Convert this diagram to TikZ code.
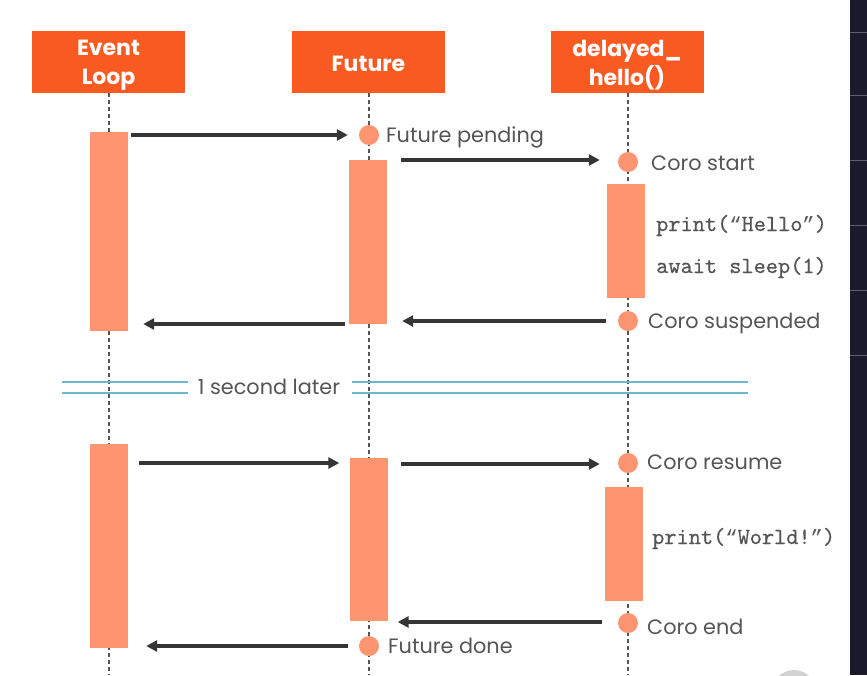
\documentclass[tikz,border=0pt]{standalone}
\usepackage{fontspec}
\setmainfont{Poppins}
\newfontfamily\codefont{lmmono10-regular.otf}[FakeBold=0.45]
\newfontfamily\quotefont{Liberation Mono}
\newcommand{\cq}[1]{{\quotefont\fontsize{20.5}{24}\selectfont #1}}
\usetikzlibrary{arrows.meta}
\definecolor{hdr}{HTML}{F95A22}
\definecolor{barc}{HTML}{FD9670}
\definecolor{txt}{HTML}{555555}
\definecolor{arr}{HTML}{353535}
\definecolor{sepc}{HTML}{6DB6CB}
\definecolor{strip}{HTML}{1B1A2C}
\tikzset{
  header/.style={fill=hdr, minimum width=153pt, minimum height=62pt, inner sep=0pt},
  hdrtext/.style={text=white, font=\fontsize{22}{29}\selectfont\bfseries, inner sep=0pt, align=center},
  life/.style={draw=txt, line width=1.1pt, dash pattern=on 4pt off 3pt},
  actbar/.style={fill=barc, minimum width=38pt, inner sep=0pt},
  dot/.style={circle, fill=barc, minimum size=20pt, inner sep=0pt},
  lbl/.style={text=txt, font=\fontsize{20.8}{24}\selectfont, anchor=base west, inner sep=0pt},
  code/.style={text=txt, font=\codefont\fontsize{23.2}{26}\selectfont, anchor=base west, inner sep=0pt},
  msg/.style={draw=arr, line width=3.4pt, -{Triangle[length=11pt,width=11pt]}},
  sepline/.style={draw=sepc, line width=2pt}
}
\begin{document}
\begin{tikzpicture}[x=1pt,y=-1pt]
\useasboundingbox (0,0) rectangle (867,675);
\fill[white] (0,0) rectangle (867,675);
% screenshot edge
\fill[strip] (850,0) rectangle (867,675);
\foreach \yy in {32,95,160,225,290,355} \draw[color=strip!70!white, line width=0.6pt] (850,\yy) -- (867,\yy);
\fill[gray!35] (794,692) circle (22);
% headers
\node[header] (hel) at (108.5,62) {};
\node[header] (hfu) at (368.5,62) {};
\node[header] (hdh) at (627,62) {};
\node[hdrtext] (tel) at ([yshift=-3pt]hel.center) {Event\\Loop};
\node[hdrtext] (tfu) at ([yshift=-2pt]hfu.center) {Future};
\node[hdrtext] (tdh) at ([yshift=-3pt]hdh.center) {delayed\_\\hello()};
% lifeline ends
\coordinate (eel) at (109,675);
\coordinate (efu) at (369,675);
\coordinate (edh) at (628,675);
\draw[life] (hel.south -| eel) -- (eel);
\draw[life] (hfu.south -| efu) -- (efu);
\draw[life] (hdh.south -| edh) -- (edh);
% activation bars
\node[actbar, minimum height=199pt] (el1) at (109,231.5) {};
\node[actbar, minimum height=204pt] (el2) at (109,546) {};
\node[actbar, minimum height=164pt] (fu1) at (368,242) {};
\node[actbar, minimum height=163pt] (fu2) at (368.5,539.5) {};
\node[actbar, minimum height=114pt] (dh1) at (626,241) {};
\node[actbar, minimum height=114pt] (dh2) at (624,544) {};
% event dots
\node[dot] (fp) at (369,135) {};
\node[dot] (cs) at (628,162) {};
\node[dot] (csu) at (628,321) {};
\node[dot] (cr) at (628,463) {};
\node[dot] (ce) at (628,623) {};
\node[dot] (fd) at (369,646) {};
% labels
\node[lbl] (lfp) at (386,142) {Future pending};
\node[lbl] (lcs) at (651,170.5) {Coro start};
\node[code] (c1) at (656,231) {print(\cq{“}Hello\cq{”})};
\node[code] (c2) at (656,273) {await sleep(1)};
\node[lbl] (lcsu) at (648,328.5) {Coro suspended};
\node[lbl] (lcr) at (647,469.5) {Coro resume};
\node[code] (c3) at (652,544) {print(\cq{“}World!\cq{”})};
\node[lbl] (lce) at (647,634.5) {Coro end};
\node[lbl] (lfd) at (388,653.5) {Future done};
% messages
\draw[msg] ([xshift=3pt]el1.east |- fp) -- ([xshift=-11pt]fp.west);
\draw[msg] ([xshift=14pt]fu1.east |- 0,160) -- ([xshift=-18pt]cs.west |- 0,160);
\draw[msg] ([xshift=-12pt]csu.west) -- ([xshift=15pt]fu1.east |- csu);
\draw[msg] ([xshift=-4pt]fu1.west |- 0,324) -- ([xshift=15pt]el1.east |- 0,324);
\draw[msg] ([xshift=11pt]el2.east |- cr) -- ([xshift=-10pt]fu2.west |- cr);
\draw[msg] ([xshift=13pt]fu2.east |- 0,464) -- ([xshift=-18pt]cr.west |- 0,464);
\draw[msg] ([xshift=-16pt]ce.west |- 0,622) -- ([xshift=10pt]fu2.east |- 0,622);
\draw[msg] ([xshift=-11pt]fd.west) -- ([xshift=18pt]el2.east |- fd);
% separator
\node[text=txt, font=\fontsize{20.8}{24}\selectfont, inner sep=0pt, anchor=base] (sec) at (269,394) {1 second later};
\coordinate (sl) at (62,387.5);
\coordinate (sr) at (748,387.5);
\foreach \dy in {-5.5,5.5} {
  \draw[sepline] ([yshift=\dy pt]sl) -- ([yshift=\dy pt]188,387.5);
  \draw[sepline] ([yshift=\dy pt]352,387.5) -- ([yshift=\dy pt]sr);
}
\end{tikzpicture}
\end{document}
